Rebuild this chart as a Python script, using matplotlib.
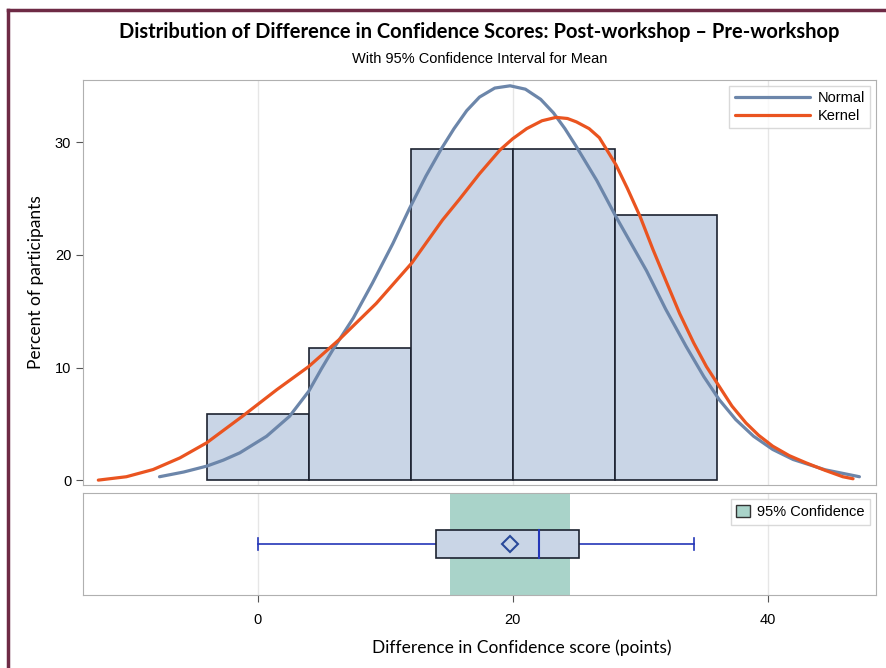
import numpy as np
import matplotlib.pyplot as plt
from matplotlib.patches import Rectangle
from matplotlib.lines import Line2D

# histogram bins (points) and percent of participants
bin_edges = [-4, 4, 12, 20, 28, 36]
bin_pct = [5.88, 11.76, 29.41, 29.41, 23.53]

# fitted normal curve
normal_x = [-7.7, -5.8, -4.0, -2.7, -1.4, 0.7, 2.5, 4.0, 5.0, 5.9, 7.5, 9.0,
            10.6, 11.9, 13.2, 14.4, 15.4, 16.4, 17.4, 18.6, 19.8, 21.0, 22.2,
            23.2, 24.1, 25.0, 26.6, 28.1, 30.5, 32.0, 33.6, 35.0, 36.2, 37.5,
            38.9, 40.4, 42.0, 44.5, 47.2]
normal_y = [0.33, 0.75, 1.27, 1.8, 2.45, 3.92, 5.69, 7.9, 9.9, 11.6, 14.4,
            17.5, 21.0, 24.1, 27.0, 29.4, 31.2, 32.8, 34.0, 34.8, 35.0, 34.7,
            33.8, 32.6, 31.2, 29.6, 26.6, 23.4, 18.6, 15.2, 11.9, 9.2, 7.17,
            5.4, 3.92, 2.75, 1.86, 0.95, 0.33]

# kernel density curve
kernel_x = [-12.5, -10.3, -8.2, -6.1, -4.0, -1.2, 1.5, 4.0, 6.4, 9.3, 12.1,
            14.5, 15.8, 17.4, 19.0, 20.0, 21.1, 22.3, 23.4, 24.3, 25.0, 26.0,
            26.8, 28.1, 29.0, 30.0, 31.0, 32.1, 33.1, 34.2, 35.2, 36.2, 37.2,
            38.3, 39.3, 40.4, 41.7, 43.0, 44.5, 45.9, 46.7]
kernel_y = [0.03, 0.33, 0.97, 2.0, 3.34, 5.69, 8.05, 10.1, 12.5, 15.7, 19.3,
            23.1, 24.9, 27.2, 29.3, 30.3, 31.2, 31.9, 32.2, 32.1, 31.8, 31.2,
            30.4, 28.0, 25.9, 23.4, 20.5, 17.5, 14.8, 12.2, 10.1, 8.35, 6.6,
            5.1, 4.0, 3.04, 2.2, 1.57, 0.9, 0.33, 0.15]

# box plot summary and 95% CI for the mean
box_min, box_q1, box_med, box_q3, box_max = 0, 14, 22.1, 25.2, 34.2
box_mean = 19.8
ci_low, ci_high = 15.1, 24.5

bar_fill = '#c9d5e6'
bar_edge = '#1c2230'
normal_col = '#6c86aa'
kernel_col = '#ea5420'
ci_col = '#a9d3c9'
whisk_col = '#2436b8'
grid_col = '#e6e6e6'
frame_col = '#b0b0b0'

plt.rcParams['font.family'] = ['Liberation Sans', 'DejaVu Sans']

fig = plt.figure(figsize=(8.86, 6.68), dpi=100)
ax = fig.add_axes([0.0937, 0.274, 0.895, 0.606])
ax2 = fig.add_axes([0.0937, 0.109, 0.895, 0.153])

xlim = (-13.7, 48.5)

# upper panel: histogram + curves
for x in [0, 20, 40]:
    ax.axvline(x, color=grid_col, lw=1, zorder=0)
widths = np.diff(bin_edges)
ax.bar(bin_edges[:-1], bin_pct, width=widths, align='edge', color=bar_fill,
       edgecolor=bar_edge, linewidth=1.2, zorder=2)
ax.plot(normal_x, normal_y, color=normal_col, lw=2.3, zorder=3, label='Normal',
        solid_capstyle='round', solid_joinstyle='round')
ax.plot(kernel_x, kernel_y, color=kernel_col, lw=2.3, zorder=4, label='Kernel',
        solid_capstyle='round', solid_joinstyle='round')
ax.set_xlim(*xlim)
ax.set_ylim(-0.4, 35.5)
ax.set_yticks([0, 10, 20, 30])
ax.set_xticks([])
ax.tick_params(axis='y', labelsize=10.5, color='#555555', length=5)
ax.set_ylabel('Percent of participants', fontsize=12.5,
              family=['Lato', 'DejaVu Sans'], labelpad=8)
for s in ax.spines.values():
    s.set_color(frame_col)
leg = ax.legend(loc='upper right', fontsize=10.5, frameon=True, fancybox=False,
                handlelength=5.2, borderpad=0.35, labelspacing=0.25,
                borderaxespad=0.4, handletextpad=0.5)
leg.get_frame().set_edgecolor('#d0d0d0')
leg.get_frame().set_linewidth(1)

# lower panel: CI band + box plot
for x in [0, 20, 40]:
    ax2.axvline(x, color=grid_col, lw=1, zorder=0)
ax2.axvspan(ci_low, ci_high, color=ci_col, zorder=1, lw=0)
ax2.add_patch(Rectangle((box_q1, 0.365), box_q3 - box_q1, 0.27,
                        facecolor=bar_fill, edgecolor=bar_edge, lw=1.2, zorder=3))
ax2.plot([box_min, box_q1], [0.5, 0.5], color=whisk_col, lw=1.2, zorder=2)
ax2.plot([box_q3, box_max], [0.5, 0.5], color=whisk_col, lw=1.2, zorder=2)
ax2.plot([box_min, box_min], [0.44, 0.56], color=whisk_col, lw=1.2)
ax2.plot([box_max, box_max], [0.44, 0.56], color=whisk_col, lw=1.2)
ax2.plot([box_med, box_med], [0.365, 0.635], color=whisk_col, lw=1.5, zorder=4)
ax2.plot([box_mean], [0.5], marker='D', ms=8, mfc='none', mec='#2a4a9a',
         mew=1.5, zorder=5)
ax2.set_xlim(*xlim)
ax2.set_ylim(0, 1)
ax2.set_yticks([])
ax2.set_xticks([0, 20, 40])
ax2.tick_params(axis='x', labelsize=10.5, color='#555555', length=5, pad=8)
ax2.set_xlabel('Difference in Confidence score (points)', fontsize=12.5,
               family=['Lato', 'DejaVu Sans'])
ax2.xaxis.set_label_coords(0.553, -0.43)
for s in ax2.spines.values():
    s.set_color(frame_col)
h = Rectangle((0, 0), 1, 1, facecolor=ci_col, edgecolor='#333333', lw=1)
leg2 = ax2.legend([h], ['95% Confidence'], loc='upper right', fontsize=10.5,
                  frameon=True, fancybox=False, handlelength=0.9,
                  handleheight=0.9, borderpad=0.4, borderaxespad=0.4,
                  handletextpad=0.5)
leg2.get_frame().set_edgecolor('#d0d0d0')

# titles
fig.text(0.541, 0.952, 'Distribution of Difference in Confidence Scores: '
         'Post-workshop \u2013 Pre-workshop', ha='center', va='center',
         fontsize=14.5, fontweight='bold', family=['Lato', 'DejaVu Sans'])
fig.text(0.541, 0.912, 'With 95% Confidence Interval for Mean', ha='center',
         va='center', fontsize=10.5)

# maroon frame (top and left)
fig.add_artist(Line2D([0.009, 1.0], [0.985, 0.985], color='#6e2a45', lw=2.5,
                      transform=fig.transFigure))
fig.add_artist(Line2D([0.009, 0.009], [0.0, 0.985], color='#6e2a45', lw=2.5,
                      transform=fig.transFigure))

fig.savefig('out.png', dpi=100)
